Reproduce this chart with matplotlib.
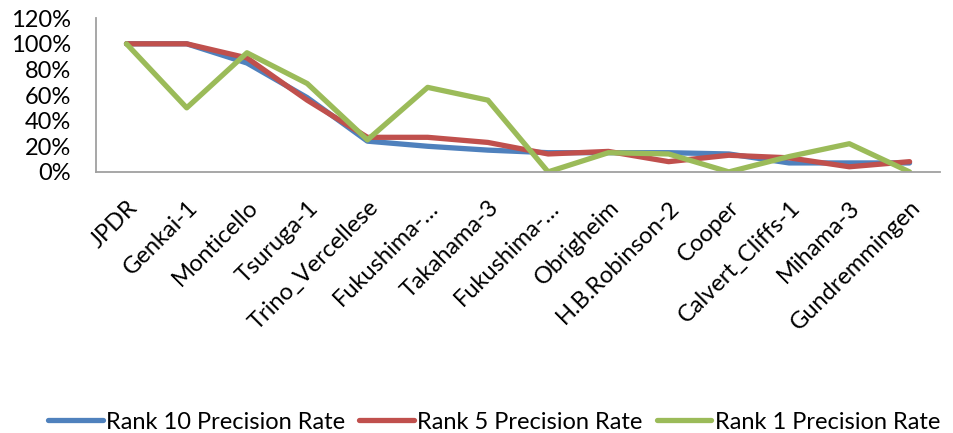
import matplotlib
matplotlib.use('Agg')
import matplotlib.pyplot as plt
from matplotlib.ticker import PercentFormatter

plants = ['JPDR', 'Genkai-1', 'Monticello', 'Tsuruga-1', 'Trino_Vercellese',
          'Fukushima-…', 'Takahama-3', 'Fukushima-…', 'Obrigheim',
          'H.B.Robinson-2', 'Cooper', 'Calvert_Cliffs-1', 'Mihama-3',
          'Gundremmingen']

rank10 = [100, 100, 85, 58, 24, 20, 17, 15, 15, 15, 14, 7, 7, 7]
rank5 = [100, 100, 89, 56, 27, 27, 23, 14, 16, 8, 13, 11, 4, 8]
rank1 = [100, 50, 93, 69, 25, 66, 56, 0, 15, 14, 0, 12, 22, 0]

series_names = ['Rank 10 Precision Rate', 'Rank 5 Precision Rate', 'Rank 1 Precision Rate']
colors = ['#4F81BD', '#C0504D', '#9BBB59']

plt.rcParams['font.family'] = ['Lato', 'DejaVu Sans']

fig = plt.figure(figsize=(9.54, 4.33), dpi=100)
ax = fig.add_axes([0.101, 0.603, 0.884, 0.355])

x = range(len(plants))
for vals, name, c in zip([rank10, rank5, rank1], series_names, colors):
    ax.plot(x, vals, color=c, lw=3.8, label=name, solid_capstyle='round')

ax.set_xlim(-0.5, len(plants) - 0.5)
ax.set_ylim(0, 120)
ax.set_yticks(range(0, 121, 20))
ax.yaxis.set_major_formatter(PercentFormatter(decimals=0))
ax.set_xticks(list(x))
ax.set_xticklabels(plants, rotation=45, ha='right', rotation_mode='anchor', fontsize=17)
ax.tick_params(axis='y', labelsize=17, length=0, pad=18)
ax.tick_params(axis='x', length=0, pad=18)

for s in ['top', 'right']:
    ax.spines[s].set_visible(False)
for s in ['left', 'bottom']:
    ax.spines[s].set_color('#A0A0A0')
    ax.spines[s].set_linewidth(1.3)

fig.legend(loc='lower center', bbox_to_anchor=(0.518, -0.048), ncol=3, frameon=False,
           fontsize=17, handlelength=2.3, handletextpad=0.15, columnspacing=0.6)

fig.savefig('out.png', dpi=100)
